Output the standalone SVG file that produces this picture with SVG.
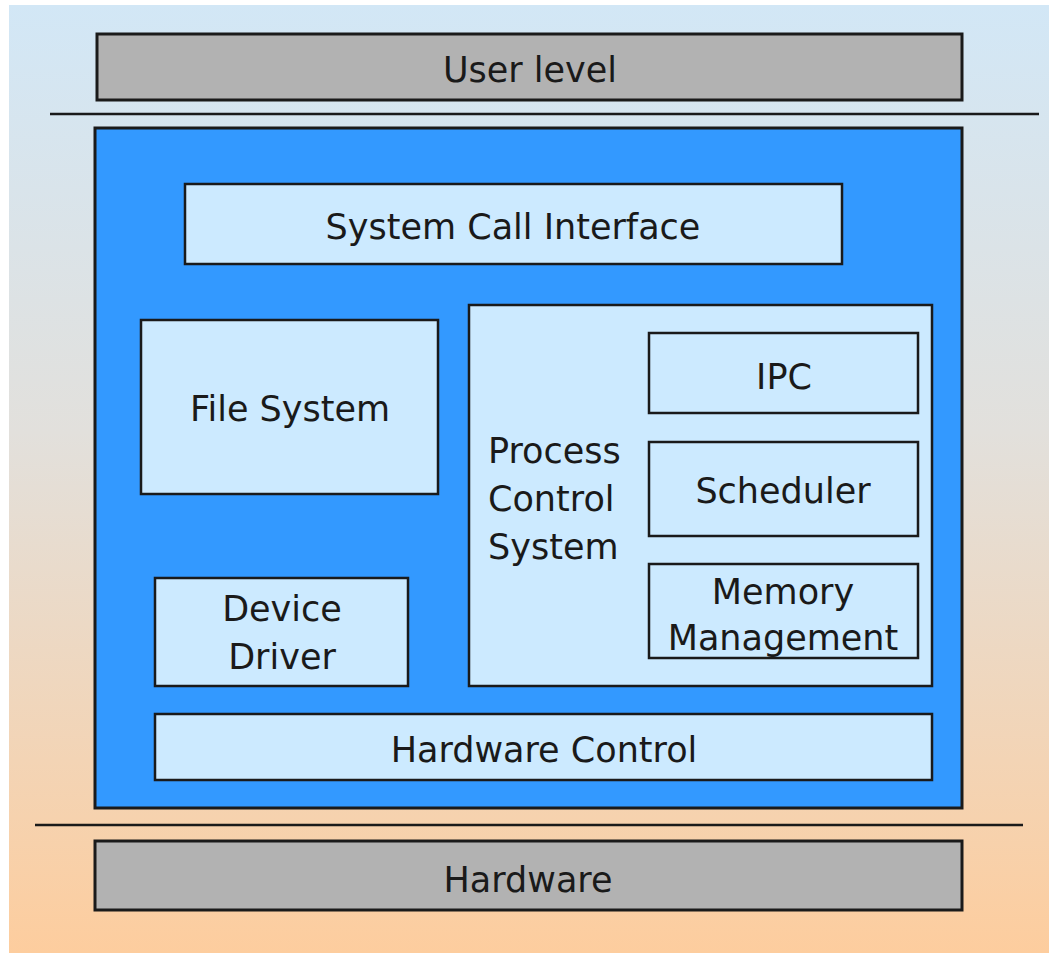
<svg xmlns="http://www.w3.org/2000/svg" width="1049" height="953" viewBox="0 0 1049 953">
  <defs>
    <linearGradient id="bg" x1="0" y1="0" x2="0" y2="1">
      <stop offset="0" stop-color="#d2e7f6"/>
      <stop offset="0.45" stop-color="#e2e0dc"/>
      <stop offset="1" stop-color="#fdcd9e"/>
    </linearGradient>
  </defs>
  <style>
    .gray { fill: #b2b2b2; stroke: #1a1a1a; stroke-width: 3; }
    .kernel { fill: #3399ff; stroke: #1a1a1a; stroke-width: 3; }
    .box { fill: #cceaff; stroke: #1a1a1a; stroke-width: 2.5; }
    .sep { stroke: #1a1a1a; stroke-width: 2.5; }
    text { font-family: "DejaVu Sans", Verdana, sans-serif; font-size: 35px; fill: #1a1a1a; }
    .c { text-anchor: middle; }
  </style>
  <rect x="0" y="0" width="1049" height="953" fill="#ffffff"/>
  <rect x="9" y="5" width="1040" height="948" fill="url(#bg)"/>

  <g id="user-level">
    <rect class="gray" x="97" y="34" width="865" height="66"/>
    <text class="c" x="530" y="82">User level</text>
  </g>

  <g id="separators">
    <line class="sep" x1="50" y1="114" x2="1039" y2="114"/>
    <line class="sep" x1="35" y1="825" x2="1023" y2="825"/>
  </g>

  <g id="kernel">
    <rect class="kernel" x="95" y="128" width="867" height="680"/>
  </g>

  <g id="system-call-interface">
    <rect class="box" x="185" y="184" width="657" height="80"/>
    <text class="c" x="513" y="239">System Call Interface</text>
  </g>

  <g id="file-system">
    <rect class="box" x="141" y="320" width="297" height="174"/>
    <text class="c" x="290" y="421">File System</text>
  </g>

  <g id="process-control-system">
    <rect class="box" x="469" y="305" width="463" height="381"/>
    <text x="488" y="463">Process</text>
    <text x="488" y="511">Control</text>
    <text x="488" y="559">System</text>
  </g>

  <g id="ipc">
    <rect class="box" x="649" y="333" width="269" height="80"/>
    <text class="c" x="784" y="389">IPC</text>
  </g>

  <g id="scheduler">
    <rect class="box" x="649" y="442" width="269" height="94"/>
    <text class="c" x="783" y="503">Scheduler</text>
  </g>

  <g id="memory-management">
    <rect class="box" x="649" y="564" width="269" height="94"/>
    <text class="c" x="783" y="604">Memory</text>
    <text class="c" x="783" y="650">Management</text>
  </g>

  <g id="device-driver">
    <rect class="box" x="155" y="578" width="253" height="108"/>
    <text class="c" x="282" y="621">Device</text>
    <text class="c" x="282" y="669">Driver</text>
  </g>

  <g id="hardware-control">
    <rect class="box" x="155" y="714" width="777" height="66"/>
    <text class="c" x="544" y="762">Hardware Control</text>
  </g>

  <g id="hardware">
    <rect class="gray" x="95" y="841" width="867" height="69"/>
    <text class="c" x="528" y="892">Hardware</text>
  </g>
</svg>
